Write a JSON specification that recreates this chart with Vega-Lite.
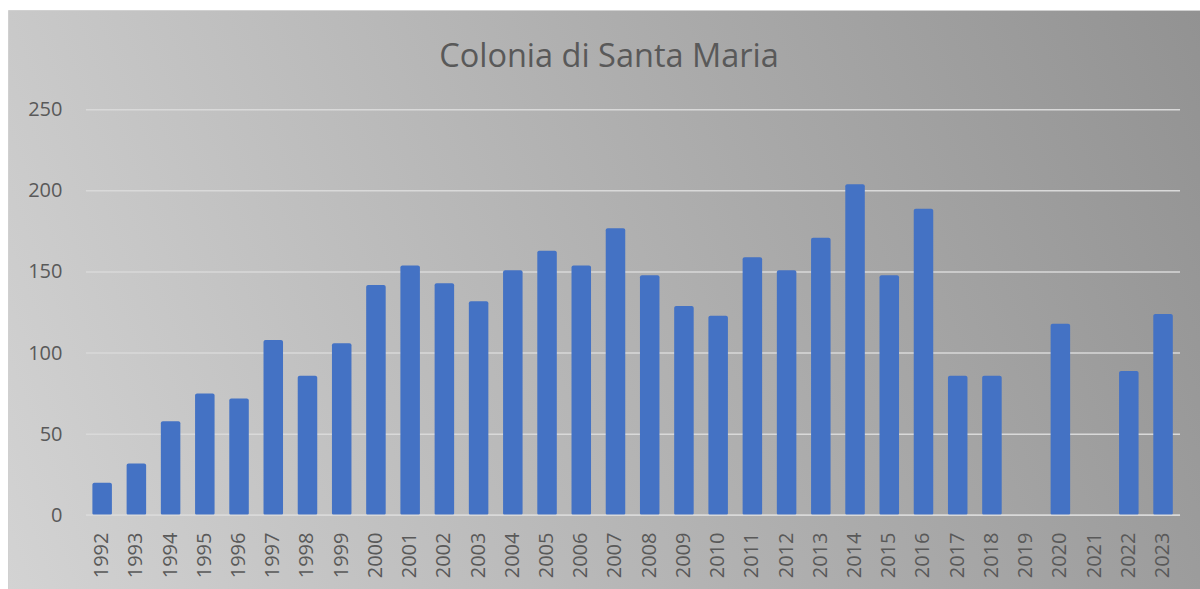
{
  "$schema": "https://vega.github.io/schema/vega-lite/v6.json",
  "width": 1192,
  "height": 579,
  "autosize": {"type": "none"},
  "padding": {"left": 8, "top": 10, "right": 0, "bottom": 0},
  "background": "#ffffff",
  "title": {
    "text": "Colonia di Santa Maria",
    "font": "Open Sans",
    "fontSize": 32.5,
    "fontWeight": "normal",
    "color": "#595959",
    "anchor": "middle",
    "baseline": "alphabetic",
    "offset": -89,
    "dx": 5
  },
  "config": {
    "view": {
      "fill": {
        "gradient": "linear",
        "x1": 0, "y1": 1, "x2": 1.146, "y2": 0.788,
        "stops": [
          {"offset": 0, "color": "#d3d3d3"},
          {"offset": 1, "color": "#929292"}
        ]
      },
      "stroke": "#d0d0d0",
      "strokeWidth": 1
    }
  },
  "data": {
    "values": [
      {"year": "1992", "value": 20},
      {"year": "1993", "value": 32},
      {"year": "1994", "value": 58},
      {"year": "1995", "value": 75},
      {"year": "1996", "value": 72},
      {"year": "1997", "value": 108},
      {"year": "1998", "value": 86},
      {"year": "1999", "value": 106},
      {"year": "2000", "value": 142},
      {"year": "2001", "value": 154},
      {"year": "2002", "value": 143},
      {"year": "2003", "value": 132},
      {"year": "2004", "value": 151},
      {"year": "2005", "value": 163},
      {"year": "2006", "value": 154},
      {"year": "2007", "value": 177},
      {"year": "2008", "value": 148},
      {"year": "2009", "value": 129},
      {"year": "2010", "value": 123},
      {"year": "2011", "value": 159},
      {"year": "2012", "value": 151},
      {"year": "2013", "value": 171},
      {"year": "2014", "value": 204},
      {"year": "2015", "value": 148},
      {"year": "2016", "value": 189},
      {"year": "2017", "value": 86},
      {"year": "2018", "value": 86},
      {"year": "2019", "value": null},
      {"year": "2020", "value": 118},
      {"year": "2021", "value": null},
      {"year": "2022", "value": 89},
      {"year": "2023", "value": 124}
    ]
  },
  "layer": [
    {
      "data": {"values": [{"v": 0}, {"v": 50}, {"v": 100}, {"v": 150}, {"v": 200}, {"v": 250}]},
      "mark": {"type": "rule", "color": "#d9d9d9", "strokeWidth": 1.5},
      "encoding": {
        "y": {"field": "v", "type": "quantitative", "title": null,
              "scale": {"domain": [-45.43, 311.45], "nice": false, "zero": false}},
        "x": {"datum": "1992", "type": "nominal", "bandPosition": -0.33, "title": null},
        "x2": {"datum": "2023", "bandPosition": 1.37}
      }
    },
    {
      "mark": {"type": "bar", "color": "#4472C4", "cornerRadius": 2},
      "encoding": {
        "x": {
          "field": "year",
          "type": "nominal",
          "title": null,
          "sort": null,
          "scale": {
            "domain": ["1992","1993","1994","1995","1996","1997","1998","1999","2000","2001","2002","2003","2004","2005","2006","2007","2008","2009","2010","2011","2012","2013","2014","2015","2016","2017","2018","2019","2020","2021","2022","2023"],
            "paddingInner": 0.43,
            "paddingOuter": 0,
            "range": [84.4, 1164.8]
          },
          "axis": {
            "labelAngle": -90,
            "domain": false,
            "ticks": false,
            "tickSize": 0,
            "labelPadding": 0,
            "offset": -57,
            "labelFont": "Open Sans",
            "labelFontSize": 20,
            "labelColor": "#595959",
            "labelOverlap": false,
            "grid": false,
            "title": null
          }
        },
        "y": {
          "field": "value",
          "type": "quantitative",
          "title": null,
          "scale": {"domain": [-45.43, 311.45], "nice": false, "zero": false},
          "axis": {
            "values": [0, 50, 100, 150, 200, 250],
            "grid": false,
            "domain": false,
            "ticks": false,
            "tickSize": 0,
            "labelPadding": 0,
            "offset": -54,
            "labelFont": "Open Sans",
            "labelFontSize": 20,
            "labelColor": "#595959",
            "title": null
          }
        },
        "y2": {"datum": 0}
      }
    },
    {
      "data": {"values": [{"v": 0}]},
      "mark": {"type": "rule", "color": "#d9d9d9", "strokeWidth": 1.5},
      "encoding": {
        "y": {"field": "v", "type": "quantitative", "title": null,
              "scale": {"domain": [-45.43, 311.45], "nice": false, "zero": false}},
        "x": {"datum": "1992", "type": "nominal", "bandPosition": -0.33, "title": null},
        "x2": {"datum": "2023", "bandPosition": 1.37}
      }
    }
  ]
}
